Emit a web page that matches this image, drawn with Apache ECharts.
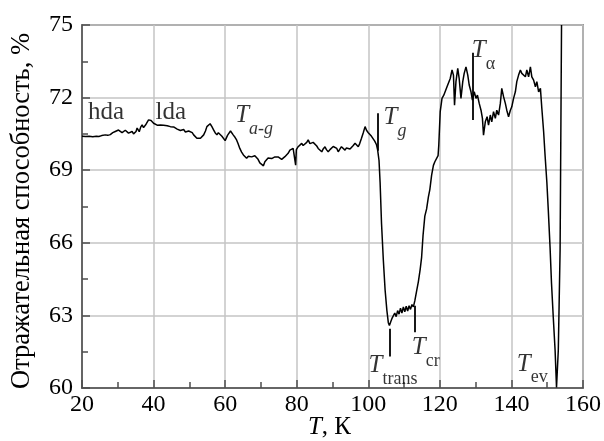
<!DOCTYPE html>
<html>
<head>
<meta charset="utf-8">
<script src="https://cdn.jsdelivr.net/npm/echarts@6/dist/echarts.min.js"></script>
<style>
  html, body { margin: 0; padding: 0; background: #ffffff; }
  #chart { width: 604px; height: 441px; }
</style>
</head>
<body>
<div id="chart"></div>
<script>
// Reflectance of a water-ice film during heating: [temperature K, reflectance %]
const heatingScan = [
  [20.0,70.40],[21.0,70.39],[22.0,70.40],[23.0,70.38],[24.0,70.40],[24.7,70.39],[25.5,70.43],
  [26.5,70.46],[27.2,70.44],[27.9,70.47],[28.6,70.55],[29.3,70.60],[30.2,70.66],[30.7,70.60],
  [31.2,70.55],[31.7,70.62],[32.1,70.65],[32.6,70.58],[33.0,70.53],[33.5,70.57],[34.0,70.60],
  [34.4,70.50],[34.7,70.42],[35.1,70.60],[35.4,70.74],[35.7,70.66],[36.0,70.59],[36.4,70.78],
  [36.8,70.87],[37.2,70.76],[37.5,70.72],[37.9,70.90],[38.2,70.95],[38.6,71.08],[39.0,71.00],
  [39.3,71.05],[39.6,70.97],[40.0,70.94],[40.5,70.90],[41.0,70.86],[41.4,70.92],[41.9,70.87],
  [42.4,70.82],[42.8,70.86],[43.3,70.80],[43.8,70.84],[44.2,70.78],[44.7,70.80],[45.2,70.75],
  [45.6,70.79],[46.1,70.73],[46.6,70.70],[47.0,70.74],[47.5,70.64],[48.0,70.70],[48.4,70.68],
  [48.9,70.58],[49.3,70.53],[49.8,70.62],[50.3,70.64],[50.8,70.55],[51.2,70.46],[51.7,70.40],
  [52.1,70.32],[52.6,70.36],[53.1,70.32],[53.6,70.40],[54.0,70.46],[54.5,70.62],[54.9,70.80],
  [55.4,70.86],[55.8,70.92],[56.3,70.80],[56.8,70.66],[57.2,70.55],[57.7,70.46],[58.1,70.55],
  [58.6,70.52],[59.1,70.40],[59.6,70.32],[60.0,70.22],[60.3,70.18],[60.7,70.45],[61.0,70.53],
  [61.5,70.62],[61.9,70.58],[62.3,70.45],[62.8,70.35],[63.2,70.25],[63.6,70.10],[64.1,69.90],
  [64.6,69.75],[65.1,69.63],[65.5,69.55],[66.0,69.49],[66.5,69.58],[66.9,69.63],[67.4,69.55],
  [67.9,69.52],[68.3,69.60],[68.8,69.56],[69.2,69.45],[69.7,69.30],[70.2,69.24],[70.7,69.18],
  [71.1,69.35],[71.6,69.42],[72.0,69.50],[72.5,69.56],[73.0,69.48],[73.5,69.42],[73.9,69.55],
  [74.4,69.63],[74.8,69.55],[75.3,69.49],[75.8,69.45],[76.3,69.42],[76.7,69.56],[77.2,69.63],
  [77.6,69.70],[78.1,69.83],[78.6,69.78],[79.0,69.90],[79.4,69.85],[79.7,69.21],[79.9,69.85],
  [80.4,69.97],[80.9,70.05],[81.4,70.11],[81.8,70.02],[82.3,69.97],[82.8,70.15],[83.2,70.25],
  [83.7,70.10],[84.2,70.04],[84.6,70.15],[85.1,70.11],[85.6,70.00],[86.0,69.90],[86.5,69.95],
  [87.0,69.76],[87.4,69.88],[87.9,69.97],[88.3,69.85],[88.8,69.76],[89.3,69.85],[89.8,69.90],
  [90.2,69.98],[90.7,70.04],[91.2,69.90],[91.6,69.76],[92.1,69.88],[92.5,69.97],[93.0,69.90],
  [93.5,69.83],[93.9,69.92],[94.4,69.97],[94.9,69.88],[95.3,69.90],[95.8,70.02],[96.3,70.11],
  [96.7,70.03],[97.2,69.97],[97.6,70.10],[98.1,70.32],[98.6,70.55],[99.1,70.80],[99.5,70.65],
  [100.0,70.55],[100.4,70.60],[100.9,70.40],[101.3,70.45],[101.8,70.20],[102.3,70.05],
  [102.6,69.85],[103.0,69.40],[103.3,68.50],[103.7,66.80],[104.2,65.30],[104.7,64.05],
  [105.2,63.20],[105.6,62.70],[105.9,62.58],[106.3,62.75],[106.7,62.90],[107.0,62.85],
  [107.4,63.10],[107.8,62.95],[108.2,63.20],[108.6,63.05],[109.0,63.30],[109.4,63.10],
  [109.8,63.35],[110.2,63.15],[110.6,63.38],[111.0,63.18],[111.4,63.40],[111.8,63.25],
  [112.2,63.45],[112.6,63.35],[113.0,63.60],[113.5,64.00],[114.0,64.40],[114.5,64.90],
  [114.9,65.40],[115.3,66.30],[115.8,67.10],[116.3,67.40],[116.8,67.90],[117.2,68.20],
  [117.7,68.80],[118.2,69.20],[118.6,69.35],[119.1,69.40],[119.5,69.60],[119.7,70.04],
  [120.1,71.42],[120.6,71.97],[121.1,72.10],[121.5,72.04],[122.0,72.45],[122.4,72.38],
  [122.9,72.79],[123.4,73.14],[123.8,72.93],[124.1,71.69],[124.5,72.66],[125.0,73.21],
  [125.4,72.79],[125.9,71.97],[126.4,72.66],[126.8,73.00],[127.3,73.27],[127.8,72.93],
  [128.2,72.52],[128.7,72.24],[129.1,71.90],[129.6,72.24],[130.1,71.97],[130.5,72.10],
  [131.0,71.76],[131.5,71.48],[131.9,71.14],[132.2,70.45],[132.7,71.00],[133.2,71.21],
  [133.6,70.86],[134.1,71.28],[134.5,71.00],[135.0,71.42],[135.5,71.14],[135.9,71.48],
  [136.4,71.28],[136.9,71.76],[137.3,72.38],[137.8,72.04],[138.3,71.76],[138.7,71.48],
  [139.2,71.21],[139.7,71.48],[140.1,71.62],[140.6,71.97],[141.1,72.24],[141.5,72.66],
  [142.0,72.93],[142.5,73.14],[142.9,73.00],[143.4,73.07],[143.9,72.86],[144.3,73.14],
  [144.8,72.86],[145.3,73.27],[145.7,72.86],[146.2,72.72],[146.7,72.45],[147.1,72.66],
  [147.6,72.24],[148.1,72.38],[148.5,71.55],[149.0,70.59],[149.4,69.62],[149.9,68.50],
  [150.3,67.36],[150.8,65.80],[151.2,64.33],[151.7,62.90],[152.2,61.57],[152.6,60.02],
  [153.1,61.57],[153.6,65.70],[154.0,75.00]
];

// Characteristic-temperature markers: x position and vertical extent (%)
const markerT    = [102.6, 105.9, 113.0, 129.1];
const markerLow  = [69.80, 61.30, 62.30, 71.07];
const markerHigh = [71.35, 62.45, 63.40, 73.85];

// Annotation texts and their top-left anchors in data coordinates
const noteMain  = ['hda', 'lda', 'T', 'T', 'T', 'T', 'T', 'T'];
const noteSub   = ['', '', 'a-g', 'g', 'α', 'trans', 'cr', 'ev'];
const noteSubIt = [false, false, true, true, false, false, false, false];
const noteX     = [21.68, 40.54, 62.81, 104.25, 128.92, 100.06, 112.16, 141.50];
const noteY     = [71.91, 71.91, 71.77, 71.70, 74.45, 61.44, 62.19, 61.50];

const yTitle = 'Отражательная способность, %';

const SERIF = '"Liberation Serif", "Times New Roman", serif';
const AXIS_COLOR = '#4d4d4d';
const GRID_COLOR = '#c4c4c4';

const serifText = (size, italic) => ({
  fontFamily: SERIF, fontSize: size, fontStyle: italic ? 'italic' : 'normal', color: '#000'
});

const chart = echarts.init(document.getElementById('chart'), null, { renderer: 'canvas' });

chart.setOption({
  animation: false,
  backgroundColor: '#ffffff',
  textStyle: { fontFamily: SERIF, color: '#000' },
  grid: {
    left: 82, right: 21, top: 25, bottom: 53,
    containLabel: false, outerBoundsMode: 'none',
    show: true, borderColor: AXIS_COLOR, borderWidth: 1.5, backgroundColor: 'transparent'
  },
  xAxis: {
    type: 'value', min: 20, max: 160, interval: 20,
    name: '{i|T}{r|, К}', nameLocation: 'middle', nameGap: 27, nameMoveOverlap: false,
    nameTextStyle: Object.assign(serifText(25, false), {
      padding: [0, 6, 0, 0],
      rich: { i: serifText(25, true), r: serifText(25, false) }
    }),
    axisLine: { show: true, lineStyle: { color: AXIS_COLOR, width: 1.5 } },
    axisTick: { show: true, inside: true, length: 8, lineStyle: { color: AXIS_COLOR, width: 1.5 } },
    minorTick: { show: true, splitNumber: 2, length: 6, lineStyle: { color: AXIS_COLOR, width: 1.5 } },
    axisLabel: Object.assign(serifText(24, false), { margin: 5 }),
    splitLine: { show: true, lineStyle: { color: GRID_COLOR, width: 1.5 } }
  },
  yAxis: {
    type: 'value', min: 60, max: 75, interval: 3,
    name: yTitle, nameLocation: 'middle', nameGap: 46, nameRotate: 90, nameMoveOverlap: false,
    nameTextStyle: Object.assign(serifText(26.5, false), { padding: [0, 9, 0, 0] }),
    axisLine: { show: true, lineStyle: { color: AXIS_COLOR, width: 1.5 } },
    axisTick: { show: true, inside: true, length: 8, lineStyle: { color: AXIS_COLOR, width: 1.5 } },
    minorTick: { show: true, splitNumber: 2, length: 6, lineStyle: { color: AXIS_COLOR, width: 1.5 } },
    axisLabel: Object.assign(serifText(24, false), { margin: 9 }),
    splitLine: { show: true, lineStyle: { color: GRID_COLOR, width: 1.5 } }
  },
  series: [
    {
      name: 'R',
      type: 'line',
      data: heatingScan,
      showSymbol: false,
      symbol: 'none',
      clip: true,
      lineStyle: { color: '#000', width: 1.5 },
      markLine: {
        silent: true,
        symbol: ['none', 'none'],
        label: { show: false },
        lineStyle: { color: '#000', width: 1.8, type: 'solid' },
        data: markerT.map((t, i) => [{ coord: [t, markerLow[i]] }, { coord: [t, markerHigh[i]] }])
      }
    },
    {
      name: 'notes',
      type: 'scatter',
      silent: true,
      symbolSize: 0,
      data: noteX.map((x, i) => [x, noteY[i]]),
      label: {
        show: true,
        position: [0, 0],
        align: 'left',
        verticalAlign: 'top',
        formatter: (p) => {
          const i = p.dataIndex;
          if (!noteSub[i]) return '{n|' + noteMain[i] + '}';
          return '{t|' + noteMain[i] + '}{' + (noteSubIt[i] ? 'si' : 's') + '|' + noteSub[i] + '}';
        },
        rich: {
          n:  Object.assign(serifText(25, false), { verticalAlign: 'top' }),
          t:  Object.assign(serifText(25, true), { verticalAlign: 'top' }),
          s:  Object.assign(serifText(18, false), { verticalAlign: 'top', padding: [17, 0, 0, 0] }),
          si: Object.assign(serifText(18, true), { verticalAlign: 'top', padding: [17, 0, 0, 0] })
        }
      }
    }
  ]
});
</script>
</body>
</html>
